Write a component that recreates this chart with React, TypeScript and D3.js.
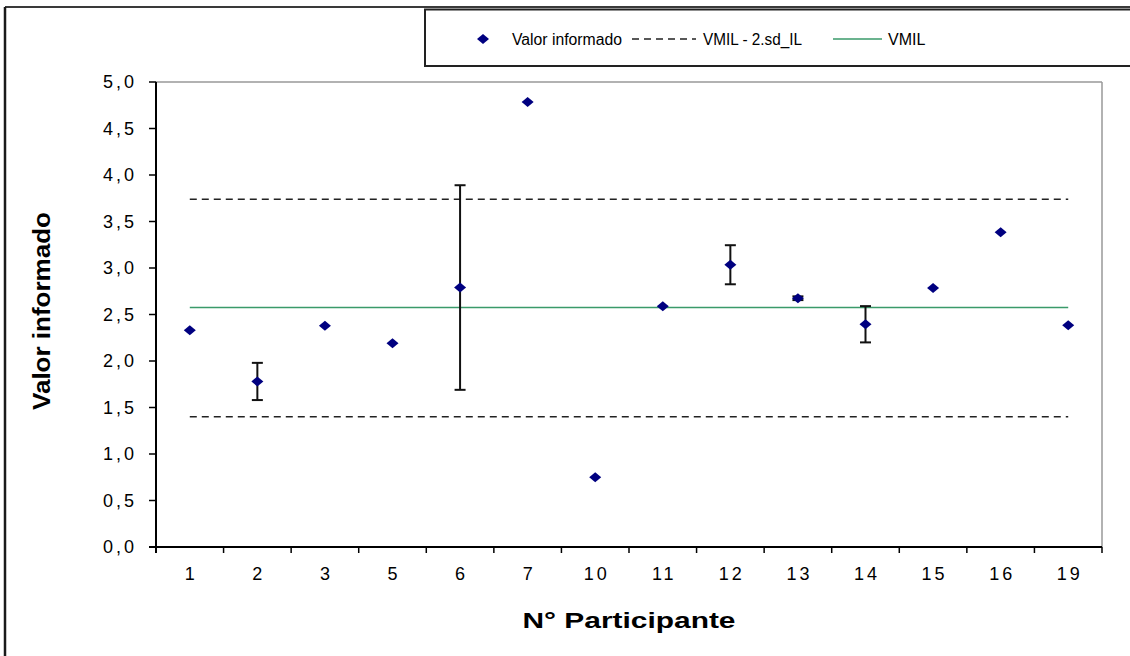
import React from "react";
import * as d3 from "d3";

// Participant results with their reported uncertainty
const participants = ["1", "2", "3", "5", "6", "7", "10", "11", "12", "13", "14", "15", "16", "19"];
const reportedValues = [2.33, 1.78, 2.38, 2.19, 2.79, 4.785, 0.75, 2.59, 3.035, 2.675, 2.395, 2.785, 3.385, 2.385];
const uncertainties = [0, 0.2, 0, 0, 1.1, 0, 0, 0, 0.21, 0.02, 0.195, 0, 0, 0];

// Reference value and limits
const vmil = 2.575;
const lowerLimit = 1.40;
const upperLimit = 3.74;

const yTicks = [0, 0.5, 1, 1.5, 2, 2.5, 3, 3.5, 4, 4.5, 5];

const W = 1130;
const H = 656;
const plot = { left: 156, right: 1102, top: 82, bottom: 547 };
const FONT = "'Liberation Sans', Arial, sans-serif";

export default function App() {
  const x = d3
    .scaleBand<string>()
    .domain(participants)
    .range([plot.left, plot.right])
    .paddingInner(0)
    .paddingOuter(0);
  const y = d3.scaleLinear().domain([0, 5]).range([plot.bottom, plot.top]);
  const cx = (p: string) => (x(p) as number) + x.bandwidth() / 2;
  const fmt = (v: number) => d3.format(".1f")(v).replace(".", ",");

  const lineStart = cx(participants[0]);
  const lineEnd = cx(participants[participants.length - 1]);

  const diamond = (px: number, py: number) =>
    `M${px},${py - 5} L${px + 6},${py} L${px},${py + 5} L${px - 6},${py} Z`;

  const boundaries = participants.map((p) => x(p) as number).concat([plot.right]);

  return (
    <svg
      width={W}
      height={H}
      style={{ position: "fixed", left: 0, top: 0, background: "#fff" }}
      fontFamily={FONT}
    >
      {/* outer chart frame */}
      <line x1={5} y1={7} x2={W} y2={7} stroke="#3a3a3a" strokeWidth={2} />
      <line x1={5} y1={7} x2={5} y2={H} stroke="#1a1a1a" strokeWidth={2.5} />

      {/* plot area border (top / right) */}
      <line x1={plot.left} y1={plot.top} x2={plot.right} y2={plot.top} stroke="#999" strokeWidth={1.5} />
      <line x1={plot.right} y1={plot.top} x2={plot.right} y2={plot.bottom} stroke="#999" strokeWidth={1.5} />

      {/* reference lines */}
      <line x1={lineStart} x2={lineEnd} y1={y(upperLimit)} y2={y(upperLimit)} stroke="#222" strokeWidth={1.5} strokeDasharray="7,5" />
      <line x1={lineStart} x2={lineEnd} y1={y(lowerLimit)} y2={y(lowerLimit)} stroke="#222" strokeWidth={1.5} strokeDasharray="7,5" />
      <line x1={lineStart} x2={lineEnd} y1={y(vmil)} y2={y(vmil)} stroke="#3a9a6a" strokeWidth={1.5} />

      {/* error bars */}
      {participants.map((p, i) => {
        const u = uncertainties[i];
        if (!u) return null;
        const px = cx(p);
        const y1 = y(reportedValues[i] + u);
        const y2 = y(reportedValues[i] - u);
        return (
          <g key={"e" + p} stroke="#111" strokeWidth={2}>
            <line x1={px} x2={px} y1={y1} y2={y2} />
            <line x1={px - 5.5} x2={px + 5.5} y1={y1} y2={y1} />
            <line x1={px - 5.5} x2={px + 5.5} y1={y2} y2={y2} />
          </g>
        );
      })}

      {/* reported values */}
      {participants.map((p, i) => (
        <path key={"d" + p} d={diamond(cx(p), y(reportedValues[i]))} fill="#000080" />
      ))}

      {/* y axis */}
      <line x1={plot.left} y1={plot.top} x2={plot.left} y2={plot.bottom + 6} stroke="#000" strokeWidth={2} />
      {yTicks.map((t) => (
        <g key={"yt" + t}>
          <line x1={plot.left - 7} x2={plot.left} y1={y(t)} y2={y(t)} stroke="#000" strokeWidth={1.5} />
          <text x={137} y={y(t)} dy="0.36em" textAnchor="end" fontSize={18} letterSpacing={3} fill="#000">
            {fmt(t)}
          </text>
        </g>
      ))}

      {/* x axis */}
      <line x1={plot.left - 7} y1={plot.bottom} x2={plot.right} y2={plot.bottom} stroke="#000" strokeWidth={2} />
      {boundaries.map((b, i) => (
        <line key={"xt" + i} x1={b} x2={b} y1={plot.bottom} y2={plot.bottom + 6} stroke="#000" strokeWidth={1.5} />
      ))}
      {participants.map((p) => (
        <text key={"xl" + p} x={cx(p) + 1.5} y={580} textAnchor="middle" fontSize={18} letterSpacing={3} fill="#000">
          {p}
        </text>
      ))}

      {/* axis titles */}
      <text
        x={629}
        y={628}
        textAnchor="middle"
        fontSize={22}
        fontWeight="bold"
        fill="#000"
        textLength={213}
        lengthAdjust="spacingAndGlyphs"
      >
        N° Participante
      </text>
      <text
        transform={`translate(50,311) rotate(-90)`}
        textAnchor="middle"
        fontSize={24}
        fontWeight="bold"
        fill="#000"
        textLength={198}
        lengthAdjust="spacingAndGlyphs"
      >
        Valor informado
      </text>

      {/* legend */}
      <rect x={425} y={9.5} width={W} height={56.5} fill="#fff" stroke="#222" strokeWidth={2} />
      <path d={diamond(483, 39)} fill="#000080" />
      <text x={512} y={39} dy="0.36em" fontSize={16} fill="#000" textLength={110} lengthAdjust="spacingAndGlyphs">
        Valor informado
      </text>
      <line x1={632} x2={696} y1={39} y2={39} stroke="#222" strokeWidth={1.5} strokeDasharray="7,5" />
      <text x={703} y={39} dy="0.36em" fontSize={16} fill="#000" textLength={99} lengthAdjust="spacingAndGlyphs">
        VMIL - 2.sd_IL
      </text>
      <line x1={833} x2={882} y1={39} y2={39} stroke="#3a9a6a" strokeWidth={1.5} />
      <text x={888} y={39} dy="0.36em" fontSize={16} fill="#000">VMIL</text>
    </svg>
  );
}
